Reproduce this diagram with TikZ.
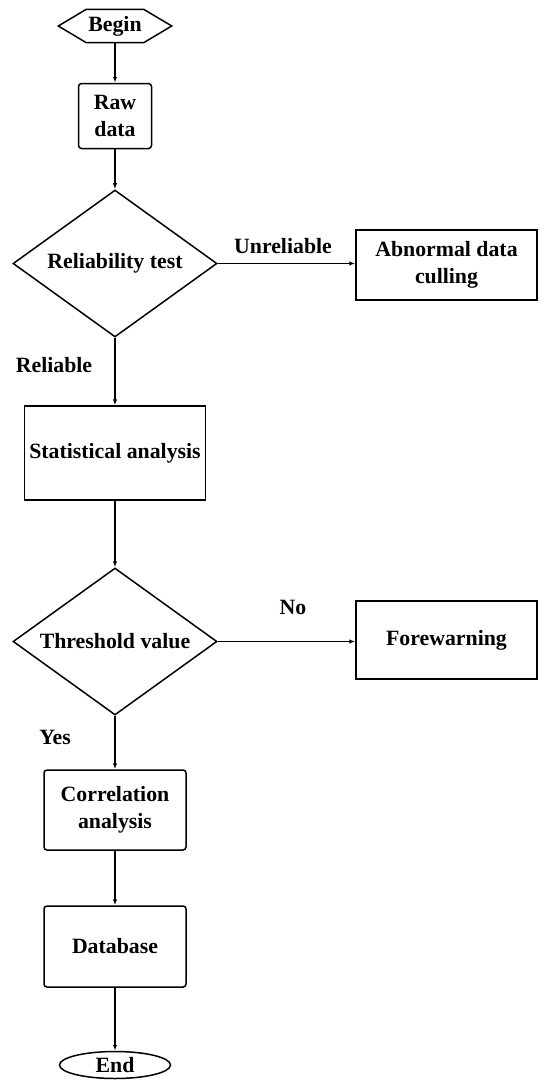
\documentclass[tikz,border=0pt]{standalone}
\usepackage{fontspec}
\setmainfont{Liberation Serif}
\usetikzlibrary{shapes.geometric,arrows.meta}
\begin{document}
\begin{tikzpicture}[x=1pt,y=-1pt,
  every node/.style={font=\fontsize{21.8}{27}\selectfont\bfseries, inner sep=0pt, align=center},
  rbox/.style={draw, line width=1.5pt, rounded corners=3pt},
  sbox/.style={draw, line width=1.5pt},
  dia/.style={draw, diamond, line width=1.5pt, minimum width=204pt, minimum height=147pt, aspect=1.39},
  conn/.style={line width=1.4pt, -{Latex[length=6pt,width=4.5pt]}}
]
\useasboundingbox (0,0) rectangle (550,1090);
% nodes
\node (begin) [minimum width=113pt, minimum height=33pt] at (115,26) {Begin};
\draw[line width=1.5pt] (begin.west) -- ([xshift=28pt]begin.north west) -- ([xshift=-28pt]begin.north east) -- (begin.east) -- ([xshift=-28pt]begin.south east) -- ([xshift=28pt]begin.south west) -- cycle;
\node (raw) [rbox, minimum width=73pt, minimum height=65pt] at (115,116) {Raw\\data};
\node (d1) [dia] at (115,263.5) {Reliability test};
\node (abn) [sbox, minimum width=181pt, minimum height=70pt] at (446.5,265) {Abnormal data\\culling};
\node (unrel) at (283,246) {Unreliable};
\node (rel) at (54,365) {Reliable};
\node (stat) [sbox, minimum width=181pt, minimum height=94pt] at (115,453) {Statistical analysis};
\node (d2) [dia] at (115,641.5) {Threshold value};
\node (fore) [sbox, minimum width=181pt, minimum height=78pt] at (446.5,640) {Forewarning};
\node (no) at (293,607) {No};
\node (yes) at (55,737) {Yes};
\node (corr) [rbox, minimum width=142pt, minimum height=80pt] at (115,810) {Correlation\\analysis};
\node (db) [rbox, minimum width=142pt, minimum height=81pt] at (115,946.5) {Database};
\node (end) [draw, ellipse, line width=1.5pt, minimum width=111pt, minimum height=27pt] at (115,1065) {End};
% connectors
\draw[conn] (begin) -- (raw);
\draw[conn] (raw) -- (d1);
\draw[conn] (d1.east) -- (d1.east -| abn.west);
\draw[conn] (d1) -- (stat);
\draw[conn] (stat) -- (d2);
\draw[conn] (d2.east) -- (d2.east -| fore.west);
\draw[conn] (d2) -- (corr);
\draw[conn] (corr) -- (db);
\draw[conn] (db) -- (end);
\end{tikzpicture}
\end{document}
